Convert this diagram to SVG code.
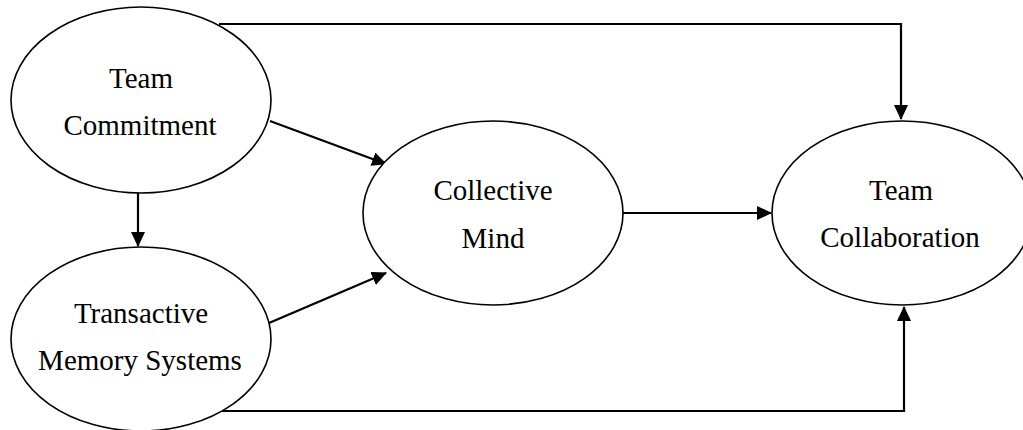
<svg xmlns="http://www.w3.org/2000/svg" width="1023" height="430" viewBox="0 0 1023 430">
<style>
.node ellipse{fill:#fff;stroke:#000;stroke-width:1.6}
.node text{font-family:"Liberation Serif","Times New Roman",serif;font-size:29px;fill:#000;text-anchor:middle}
.edges path{fill:none;stroke:#000;stroke-width:2.2}
</style>
<defs>
<marker id="arr" markerUnits="userSpaceOnUse" markerWidth="15" markerHeight="14" refX="14" refY="7" orient="auto">
<path d="M0,0 L15,7 L0,14 z" fill="#000"/>
</marker>
</defs>
<g class="edges" id="connectors">
<path d="M219,24 H901 V119" marker-end="url(#arr)"/>
<path d="M270,121 L386,164" marker-end="url(#arr)"/>
<path d="M138,193 V246" marker-end="url(#arr)"/>
<path d="M269,323 L386,273" marker-end="url(#arr)"/>
<path d="M623,213 H771" marker-end="url(#arr)"/>
<path d="M219,411 H904 V307" marker-end="url(#arr)"/>
</g>
<g class="node" id="team-commitment">
<ellipse cx="141" cy="100" rx="130" ry="93"/>
<text x="141" y="88">Team</text>
<text x="140" y="135">Commitment</text>
</g>
<g class="node" id="transactive-memory">
<ellipse cx="141" cy="339" rx="130" ry="92"/>
<text x="141" y="323">Transactive</text>
<text x="140" y="370">Memory Systems</text>
</g>
<g class="node" id="collective-mind">
<ellipse cx="493" cy="213" rx="130" ry="92"/>
<text x="493" y="200">Collective</text>
<text x="493" y="248">Mind</text>
</g>
<g class="node" id="team-collaboration">
<ellipse cx="902" cy="213" rx="130" ry="92"/>
<text x="901" y="200">Team</text>
<text x="900" y="247">Collaboration</text>
</g>
</svg>
